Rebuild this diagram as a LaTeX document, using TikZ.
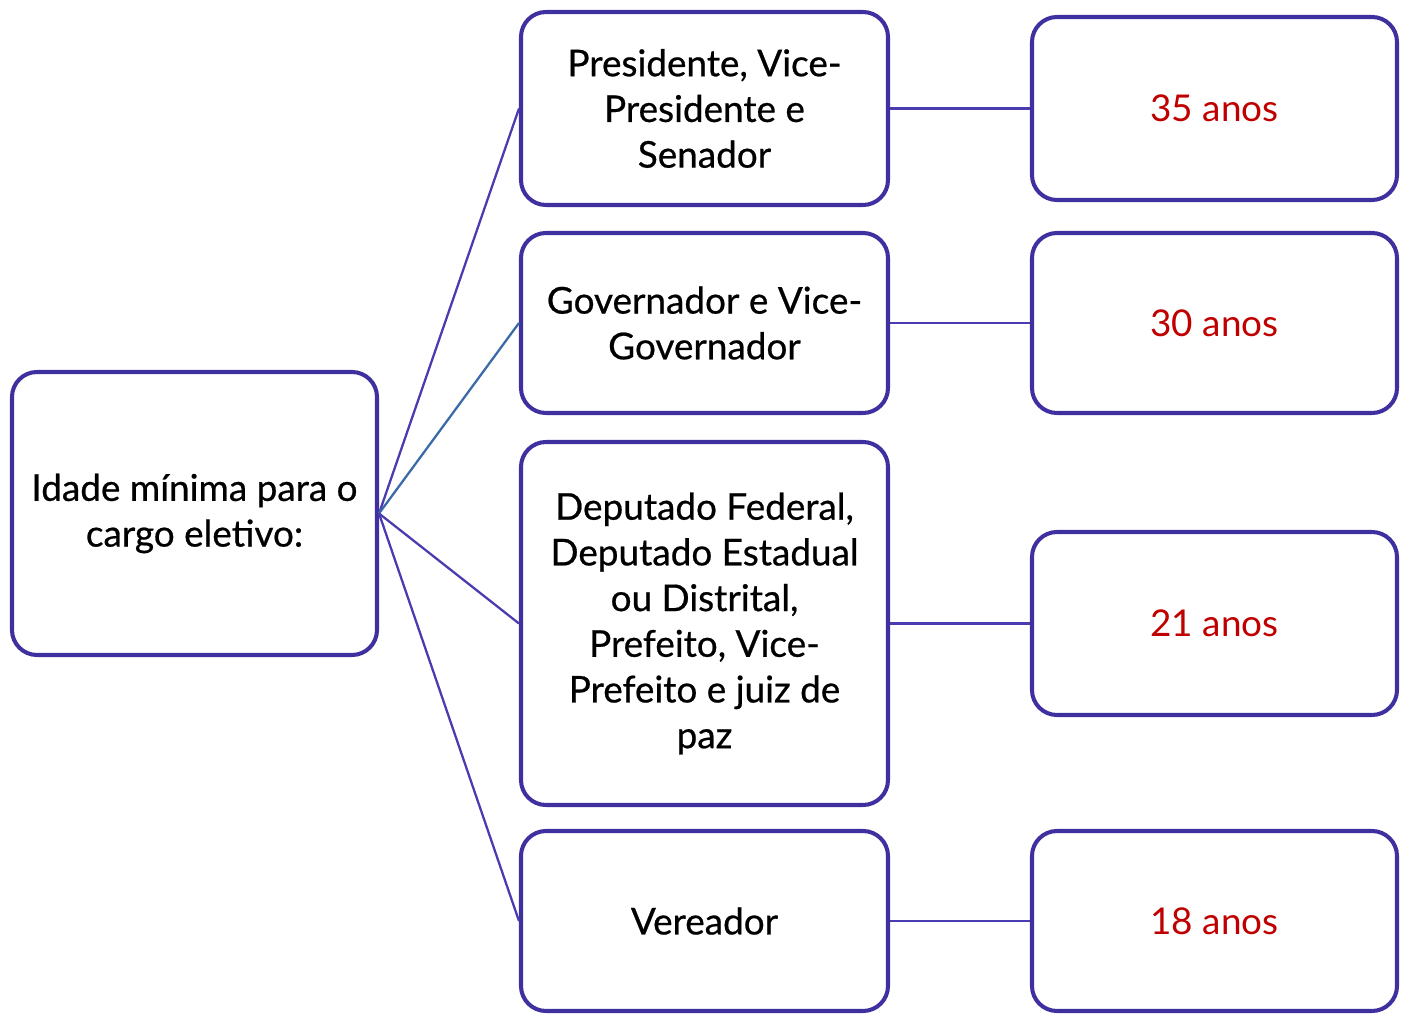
\documentclass[tikz,border=0pt]{standalone}
\usepackage{fontspec}
\setmainfont{Lato}
\newfontfamily\cargofont[FakeBold=0.6]{Lato}
\definecolor{roxo}{HTML}{3F30A0}
\definecolor{linha}{HTML}{4A3CB0}
\definecolor{azul}{HTML}{3A6AA8}
\definecolor{vermelho}{HTML}{C00000}
\tikzset{
    caixa/.style={draw=roxo, line width=2.3pt, rounded corners=0.5cm, fill=white,
        align=center, inner sep=0pt, font=\cargofont\fontsize{21}{26}\selectfont},
    idade/.style={caixa, text=vermelho, minimum width=7.3cm,
        font=\fontsize{21}{26}\selectfont},
    ligacao/.style={draw=linha, line width=1.3pt},
}
\begin{document}
\begin{tikzpicture}
    \useasboundingbox (0,0) rectangle (28.1,-20.3);

    % caixa principal
    \node[caixa, minimum width=7.3cm, minimum height=5.66cm] (raiz) at (3.89,-10.27)
        {Idade mínima para o\\cargo eletivo:};

    % cargos
    \node[caixa, minimum width=7.34cm, minimum height=3.86cm] (cargoA) at (14.09,-2.17)
        {Presidente, Vice-\\Presidente e\\Senador};
    \node[caixa, minimum width=7.34cm, minimum height=3.6cm] (cargoB) at (14.09,-6.46)
        {Governador e Vice-\\Governador};
    \node[caixa, minimum width=7.34cm, minimum height=7.26cm] (cargoC) at (14.09,-12.47)
        {Deputado Federal,\\Deputado Estadual\\ou Distrital,\\Prefeito, Vice-\\Prefeito e juiz de\\paz};
    \node[caixa, minimum width=7.34cm, minimum height=3.6cm] (cargoD) at (14.09,-18.42)
        {Vereador};

    % idades
    \node[idade, minimum height=3.66cm] (idadeA) at (24.29,-2.17) {35 anos};
    \node[idade, minimum height=3.6cm] (idadeB) at (24.29,-6.46) {30 anos};
    \node[idade, minimum height=3.66cm] (idadeC) at (24.29,-12.47) {21 anos};
    \node[idade, minimum height=3.6cm] (idadeD) at (24.29,-18.42) {18 anos};

    % ligações
    \draw[ligacao] (raiz.east) -- (cargoA.west);
    \draw[ligacao, draw=azul] (raiz.east) -- (cargoB.west);
    \draw[ligacao] (raiz.east) -- (cargoC.west);
    \draw[ligacao] (raiz.east) -- (cargoD.west);
    \foreach \c/\i in {cargoA/idadeA, cargoB/idadeB, cargoC/idadeC, cargoD/idadeD} {
        \draw[ligacao] (\c.east) -- (\i.west);
    }
\end{tikzpicture}
\end{document}
